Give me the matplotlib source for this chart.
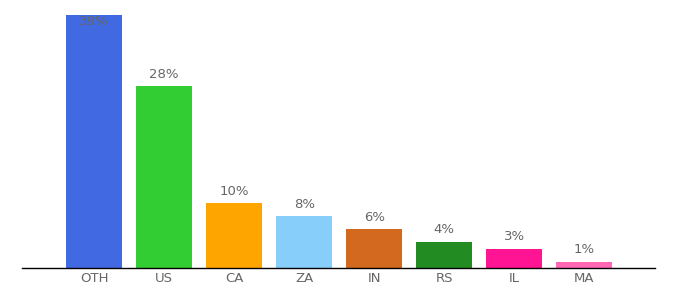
import matplotlib.pyplot as plt

countries = ['OTH', 'US', 'CA', 'ZA', 'IN', 'RS', 'IL', 'MA']
shares = [39, 28, 10, 8, 6, 4, 3, 1]
colors = ['#4169E1', '#32CD32', '#FFA500', '#87CEFA', '#D2691E', '#228B22', '#FF1493', '#FF69B4']

fig = plt.figure(figsize=(6.8, 3.0), dpi=100)
ax = fig.add_axes([22 / 680, 32 / 300, 633 / 680, 253 / 300])

x = range(len(countries))
ax.bar(x, shares, width=0.8, color=colors)

top = max(shares)
for i, v in enumerate(shares):
    if v >= top:
        ax.annotate(f'{v}%', (i, v), xytext=(0, -5), textcoords='offset points',
                    ha='center', va='center', color='#666666', fontsize=9.5)
    else:
        ax.annotate(f'{v}%', (i, v), xytext=(0, 4), textcoords='offset points',
                    ha='center', va='bottom', color='#666666', fontsize=9.5)

ax.set_xticks(list(x))
ax.set_xticklabels(countries, color='#666666', fontsize=9.5)
ax.set_xlim(-1.03, 8.01)
ax.set_ylim(0, top)
ax.tick_params(axis='x', length=0, pad=3)
ax.set_yticks([])
for s in ['top', 'right', 'left']:
    ax.spines[s].set_visible(False)
ax.spines['bottom'].set_color('black')
ax.spines['bottom'].set_linewidth(1)

fig.savefig('out.png', dpi=100)
